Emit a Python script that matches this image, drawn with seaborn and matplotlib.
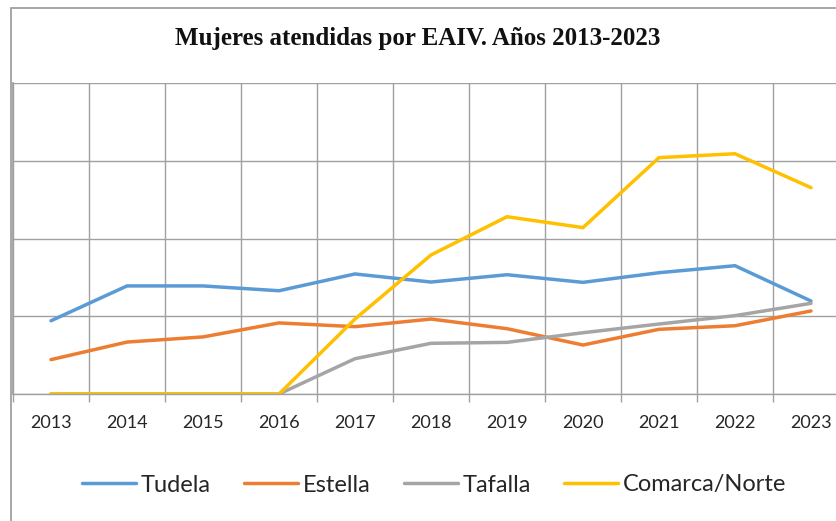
import matplotlib
matplotlib.use("Agg")
import matplotlib.pyplot as plt
import seaborn as sns
import pandas as pd
from matplotlib.patches import Rectangle

years = ["2013", "2014", "2015", "2016", "2017", "2018", "2019", "2020", "2021", "2022", "2023"]
tudela = [47.1, 69.5, 69.5, 66.4, 77.2, 72.0, 76.7, 71.8, 78.0, 82.5, 59.8]
estella = [22.1, 33.4, 36.7, 45.7, 43.3, 48.2, 42.0, 31.5, 41.6, 43.9, 53.4]
tafalla = [0, 0, 0, 0, 22.7, 32.6, 33.2, 39.4, 45.0, 50.4, 58.3]
comarca = [0, 0, 0, 0, 48.2, 89.4, 114.0, 107.0, 152.0, 154.5, 132.7]
series_names = ["Tudela", "Estella", "Tafalla", "Comarca/Norte"]
colors = ["#5B9BD5", "#ED7D31", "#A5A5A5", "#FFC000"]

rows = []
for name, vals in zip(series_names, [tudela, estella, tafalla, comarca]):
    for i, v in enumerate(vals):
        rows.append({"pos": i, "year": years[i], "serie": name, "valor": v})
df = pd.DataFrame(rows)

sns.set_theme(style="white")
W, H = 837, 521
fig = plt.figure(figsize=(W / 100, H / 100), dpi=100)
fig.patch.set_facecolor("white")

# chart border (cropped on right and bottom)
fig.add_artist(Rectangle((11 / W, -0.2), 1.2, (521 - 8) / H + 0.2, transform=fig.transFigure,
                         fill=False, edgecolor="#a0a0a0", linewidth=1.3))

left, right, top, bottom = 13, 849, 83, 394
ax = fig.add_axes([left / W, (H - bottom) / H, (right - left) / W, (bottom - top) / H])
ax.set_facecolor("white")

sns.lineplot(data=df, x="pos", y="valor", hue="serie", hue_order=series_names,
             palette=colors, linewidth=2.5, ax=ax, legend=True)
for ln in ax.lines:
    ln.set_solid_capstyle("round")
    ln.set_solid_joinstyle("miter")

ax.set_xlim(-0.5, 10.5)
ax.set_ylim(0, 200)
ax.set_xticks(range(len(years)))
ax.set_xticklabels(years, fontsize=13, family="Lato", color="#262626")
ax.set_xticks([i - 0.5 for i in range(len(years) + 1)], minor=True)
ax.tick_params(axis="x", which="major", length=0, pad=15)
ax.tick_params(axis="x", which="minor", length=6, color="#a0a0a0", width=1, direction="out", bottom=True)
ax.set_yticks([0, 50, 100, 150, 200])
ax.set_yticklabels([])
ax.tick_params(axis="y", length=0)
ax.grid(False)
ax.grid(True, axis="y", which="major", color="#a0a0a0", linewidth=1)
ax.grid(True, axis="x", which="minor", color="#a0a0a0", linewidth=1)
ax.set_axisbelow(True)
ax.set_xlabel("")
ax.set_ylabel("")
for s in ["top", "right"]:
    ax.spines[s].set_visible(False)
ax.spines["left"].set_color("#a0a0a0")
ax.spines["left"].set_linewidth(1.3)
ax.spines["bottom"].set_color("#a0a0a0")
ax.spines["bottom"].set_linewidth(1)

handles, labels = ax.get_legend_handles_labels()
ax.get_legend().remove()
fig.legend(handles, labels, loc="center", bbox_to_anchor=(434 / W, (H - 485) / H),
           ncol=4, frameon=False, prop={"family": "Lato", "size": 17},
           handlelength=2.3, handletextpad=0.2, columnspacing=1.4)

fig.text(418 / W, (H - 38) / H, "Mujeres atendidas por EAIV. Años 2013-2023",
         ha="center", va="center", fontsize=18, fontweight="bold",
         family="Liberation Serif", color="#111111")

fig.savefig("out.png", dpi=100)
